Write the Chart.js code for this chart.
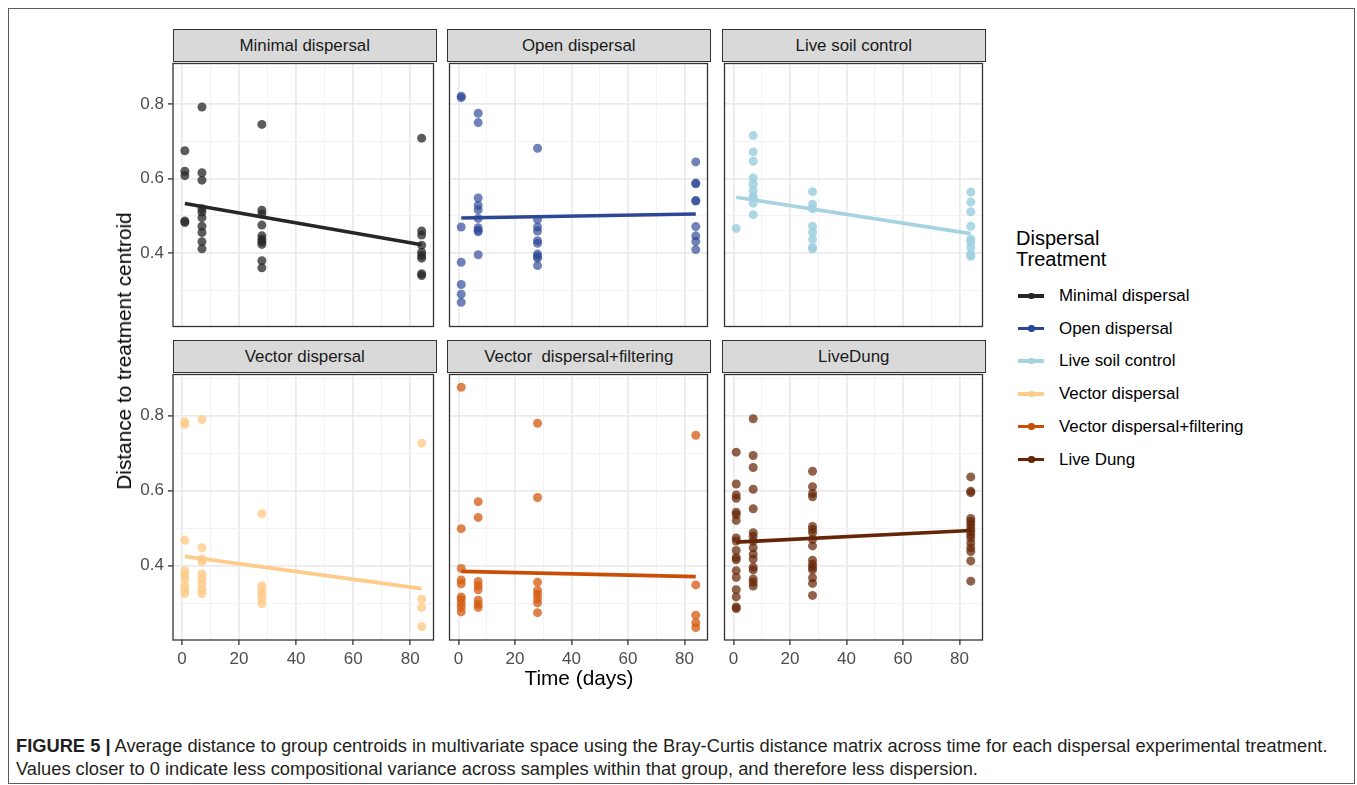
<!DOCTYPE html>
<html><head><meta charset="utf-8">
<script src="https://cdn.jsdelivr.net/npm/chart.js@4.4.0/dist/chart.umd.min.js"></script>
<style>
html,body{margin:0;padding:0;}
body{width:1357px;height:785px;background:#fff;position:relative;overflow:hidden;font-family:"Liberation Sans",Arial,Helvetica,sans-serif;}
.frame{position:absolute;left:8px;top:8px;width:1347px;height:776px;border:1.5px solid #5a5a5a;box-sizing:border-box;}
.strip{position:absolute;height:33px;background:#d9d9d9;border:1.3px solid #333;box-sizing:border-box;font-size:16.9px;color:#1a1a1a;text-align:center;line-height:31px;white-space:pre;}
canvas{position:absolute;}
.ytitle{position:absolute;left:124px;top:351px;transform:translate(-50%,-50%) rotate(-90deg);font-size:20.8px;color:#000;white-space:nowrap;}
.xtitle{position:absolute;left:579px;top:678px;transform:translate(-50%,-50%);font-size:20.8px;color:#000;white-space:nowrap;}
.legtitle{position:absolute;left:1016px;top:228px;font-size:20px;line-height:21px;color:#000;}
.legitem{position:absolute;left:1018px;height:20px;font-size:16.9px;color:#000;}
.legitem .ln{position:absolute;left:0;top:8px;width:26px;height:3.5px;}
.legitem .dt{position:absolute;left:10px;top:6.5px;width:6.5px;height:6.5px;border-radius:50%;}
.legitem .tx{position:absolute;left:41px;top:0px;white-space:nowrap;}
.caption{position:absolute;left:16px;top:735px;font-size:18.3px;line-height:22.5px;color:#231f20;white-space:nowrap;}
</style>
</head><body>
<div class="frame"></div>
<div id="root"></div>
<div class="ytitle">Distance to treatment centroid</div>
<div class="xtitle">Time (days)</div>
<div class="legtitle">Dispersal<br>Treatment</div>
<div id="legend"></div>
<div class="caption"><b>FIGURE 5 |</b> Average distance to group centroids in multivariate space using the Bray-Curtis distance matrix across time for each dispersal experimental treatment.<br>Values closer to 0 indicate less compositional variance across samples within that group, and therefore less dispersion.</div>
<script>
// ---------- data ----------
const days = [1, 7, 28, 84];
const panelTitles = ["Minimal dispersal", "Open dispersal", "Live soil control", "Vector dispersal", "Vector  dispersal+filtering", "LiveDung"];
const legendLabels = ["Minimal dispersal", "Open dispersal", "Live soil control", "Vector dispersal", "Vector dispersal+filtering", "Live Dung"];
const xTickLabels = [0, 20, 40, 60, 80];
const yTickLabels = [0.4, 0.6, 0.8];

// values per sampling day (1, 7, 28, 84)
const minimalDispersal = [
  [0.675, 0.620, 0.608, 0.486, 0.482],
  [0.793, 0.616, 0.596, 0.519, 0.510, 0.495, 0.472, 0.455, 0.430, 0.411],
  [0.746, 0.515, 0.505, 0.475, 0.446, 0.437, 0.430, 0.423, 0.379, 0.360],
  [0.709, 0.459, 0.448, 0.421, 0.402, 0.393, 0.386, 0.344, 0.339]
];
const openDispersal = [
  [0.822, 0.818, 0.470, 0.375, 0.315, 0.289, 0.267],
  [0.776, 0.751, 0.548, 0.528, 0.516, 0.493, 0.468, 0.461, 0.457, 0.395],
  [0.682, 0.490, 0.470, 0.459, 0.433, 0.426, 0.397, 0.391, 0.386, 0.366],
  [0.645, 0.588, 0.586, 0.541, 0.540, 0.471, 0.446, 0.431, 0.409]
];
const liveSoilControl = [
  [0.466],
  [0.716, 0.672, 0.647, 0.602, 0.585, 0.568, 0.552, 0.548, 0.534, 0.503],
  [0.565, 0.531, 0.519, 0.472, 0.456, 0.437, 0.415, 0.411],
  [0.564, 0.537, 0.511, 0.472, 0.437, 0.430, 0.415, 0.397, 0.391]
];
const vectorDispersal = [
  [0.784, 0.777, 0.468, 0.387, 0.376, 0.365, 0.347, 0.336, 0.326],
  [0.790, 0.448, 0.418, 0.411, 0.378, 0.365, 0.352, 0.336, 0.326],
  [0.539, 0.347, 0.334, 0.324, 0.312, 0.299],
  [0.727, 0.311, 0.289, 0.238]
];
const vectorFiltering = [
  [0.876, 0.499, 0.393, 0.362, 0.352, 0.317, 0.310, 0.299, 0.289, 0.277],
  [0.571, 0.529, 0.358, 0.347, 0.336, 0.308, 0.297, 0.289],
  [0.780, 0.582, 0.356, 0.334, 0.324, 0.312, 0.301, 0.275],
  [0.748, 0.349, 0.268, 0.248, 0.235]
];
const liveDung = [
  [0.703, 0.618, 0.589, 0.580, 0.543, 0.536, 0.521, 0.474, 0.466, 0.441, 0.422, 0.416, 0.387, 0.369, 0.336, 0.317, 0.290, 0.286],
  [0.792, 0.694, 0.662, 0.604, 0.552, 0.488, 0.479, 0.466, 0.448, 0.431, 0.418, 0.396, 0.389, 0.365, 0.356, 0.346],
  [0.652, 0.611, 0.593, 0.584, 0.505, 0.497, 0.488, 0.470, 0.453, 0.415, 0.404, 0.396, 0.389, 0.368, 0.353, 0.321],
  [0.637, 0.599, 0.595, 0.526, 0.518, 0.510, 0.501, 0.492, 0.483, 0.474, 0.461, 0.448, 0.438, 0.413, 0.359]
];
// fitted trend line values at day 1 and day 84
const trendDays = [1, 84];
const trendStart = [0.533, 0.494, 0.550, 0.425, 0.385, 0.463];
const trendEnd   = [0.422, 0.505, 0.452, 0.339, 0.371, 0.494];

// ---------- styling ----------
const lineColors  = ["#262626", "#2c4796", "#a6d3e2", "#fdcc8a", "#c94f06", "#662506"];
const pointColors = ["rgba(38,38,38,0.75)", "rgba(44,71,150,0.68)", "rgba(160,208,224,0.85)",
                     "rgba(253,204,138,0.8)", "rgba(212,90,16,0.75)", "rgba(102,37,6,0.72)"];
const panelData = [minimalDispersal, openDispersal, liveSoilControl, vectorDispersal, vectorFiltering, liveDung];

const colLeft = [173, 447, 722], rowTop = [61, 372];
const plotW = 263, plotH = 268, stripH = 33;
const xMin = -3.15, xMax = 88.15, yMin = 0.202, yMax = 0.910;
const xGrid = [0, 10, 20, 30, 40, 50, 60, 70, 80];
const yGrid = [0.3, 0.4, 0.5, 0.6, 0.7, 0.8, 0.9];
const isMajorX = v => xTickLabels.some(t => Math.abs(t - v) < 1e-9);
const isMajorY = v => yTickLabels.some(t => Math.abs(t - v) < 1e-9);
const zeroPad = s => { s.paddingLeft = 0; s.paddingRight = 0; s.paddingTop = 0; s.paddingBottom = 0; };

const panelBorder = {
  id: 'panelBorder',
  afterDatasetsDraw(chart) {
    const {ctx, chartArea: a} = chart;
    ctx.save();
    ctx.strokeStyle = '#333333';
    ctx.lineWidth = 1.3;
    ctx.strokeRect(a.left, a.top, a.right - a.left, a.bottom - a.top);
    ctx.restore();
  }
};

const root = document.getElementById('root');
panelData.forEach((series, i) => {
  const r = Math.floor(i / 3), c = i % 3;
  const padL = c === 0 ? 56 : 0, padB = r === 1 ? 34 : 0, m = 2;

  const strip = document.createElement('div');
  strip.className = 'strip';
  strip.style.left = colLeft[c] + 'px';
  strip.style.top = (rowTop[r] - stripH + 0.5) + 'px';
  strip.style.width = (plotW + 0.5) + 'px';
  strip.textContent = panelTitles[i];
  root.appendChild(strip);

  const cv = document.createElement('canvas');
  const W = plotW + padL + 2 * m, H = plotH + padB + 2 * m;
  cv.width = W; cv.height = H;
  cv.style.left = (colLeft[c] - padL - m) + 'px';
  cv.style.top = (rowTop[r] - m) + 'px';
  cv.style.width = W + 'px'; cv.style.height = H + 'px';
  root.appendChild(cv);

  const pts = [];
  series.forEach((vals, k) => vals.forEach(v => pts.push({x: days[k], y: v})));

  new Chart(cv, {
    type: 'scatter',
    data: {
      datasets: [
        {data: [{x: trendDays[0], y: trendStart[i]}, {x: trendDays[1], y: trendEnd[i]}],
         showLine: true, borderColor: lineColors[i], borderWidth: 3.6, pointRadius: 0,
         pointHoverRadius: 0, fill: false, order: 1, borderCapStyle: 'butt'},
        {data: pts, pointRadius: 4.5, pointHoverRadius: 4.5, pointBorderWidth: 0,
         pointBackgroundColor: pointColors[i], backgroundColor: pointColors[i], order: 2}
      ]
    },
    options: {
      responsive: false, animation: false, devicePixelRatio: 1,
      layout: {padding: m},
      events: [],
      plugins: {legend: {display: false}, tooltip: {enabled: false}},
      scales: {
        x: {
          type: 'linear', min: xMin, max: xMax,
          afterBuildTicks: s => { s.ticks = xGrid.map(v => ({value: v})); },
          afterFit: s => { s.height = padB; zeroPad(s); },
          ticks: {display: r === 1, autoSkip: false, maxRotation: 0, minRotation: 0, padding: 4,
                  color: '#4d4d4d', font: {size: 17, family: '"Liberation Sans", Arial, sans-serif'},
                  callback: v => isMajorX(v) ? String(v) : ''},
          grid: {color: ctx => isMajorX(ctx.tick.value) ? '#ebebeb' : '#f3f3f3',
                 lineWidth: ctx => isMajorX(ctx.tick.value) ? 1.8 : 1,
                 drawTicks: r === 1, tickLength: 5,
                 tickColor: ctx => isMajorX(ctx.tick.value) ? '#333333' : 'rgba(0,0,0,0)', tickWidth: 1.3},
          border: {display: false}
        },
        y: {
          type: 'linear', min: yMin, max: yMax,
          afterBuildTicks: s => { s.ticks = yGrid.map(v => ({value: v})); },
          afterFit: s => { s.width = padL; zeroPad(s); },
          ticks: {display: c === 0, autoSkip: false, padding: 4,
                  color: '#4d4d4d', font: {size: 17, family: '"Liberation Sans", Arial, sans-serif'},
                  callback: v => isMajorY(v) ? v.toFixed(1) : ''},
          grid: {color: ctx => isMajorY(ctx.tick.value) ? '#ebebeb' : '#f3f3f3',
                 lineWidth: ctx => isMajorY(ctx.tick.value) ? 1.8 : 1,
                 drawTicks: c === 0, tickLength: 5,
                 tickColor: ctx => isMajorY(ctx.tick.value) ? '#333333' : 'rgba(0,0,0,0)', tickWidth: 1.3},
          border: {display: false}
        }
      }
    },
    plugins: [panelBorder]
  });
});

// legend
const legTops = [286, 318.7, 351.4, 384.1, 416.8, 449.5];
const legend = document.getElementById('legend');
legendLabels.forEach((lab, i) => {
  const it = document.createElement('div');
  it.className = 'legitem';
  it.style.top = legTops[i] + 'px';
  it.innerHTML = '<div class="ln" style="background:' + lineColors[i] + '"></div>' +
                 '<div class="dt" style="background:' + lineColors[i] + '"></div>' +
                 '<div class="tx">' + lab + '</div>';
  legend.appendChild(it);
});
</script>
</body></html>
